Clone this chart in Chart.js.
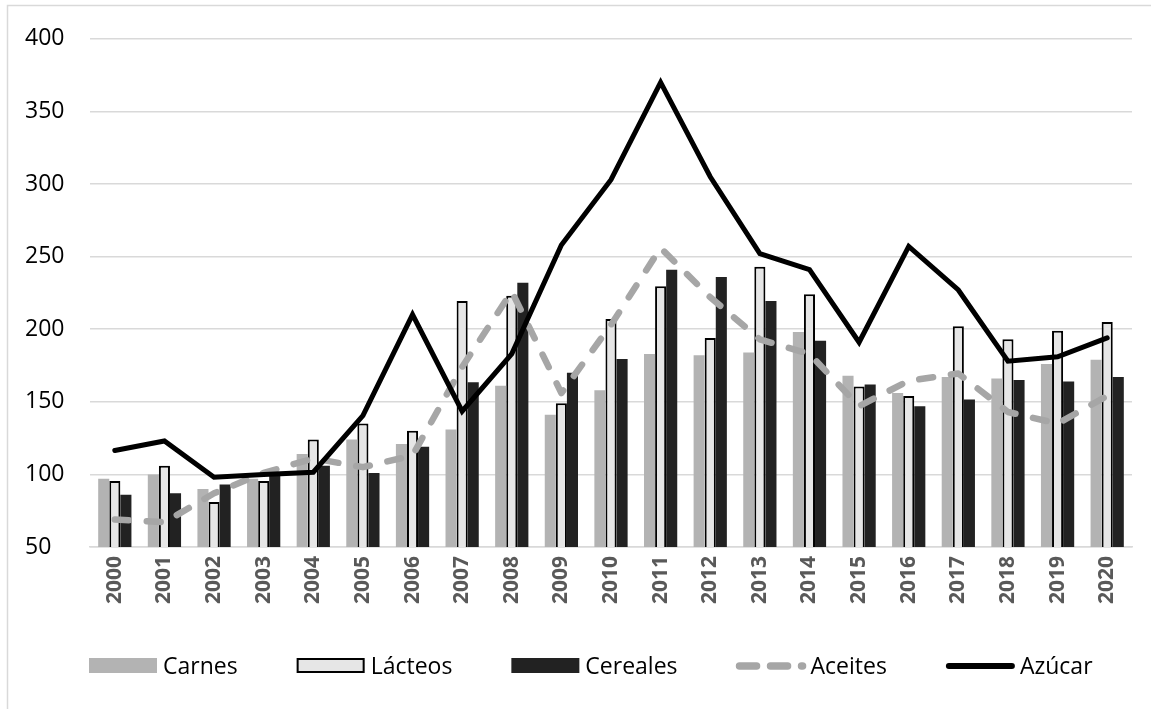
<!DOCTYPE html>
<html lang="es">
<head>
    <meta charset="UTF-8">
    <title>Índices de precios de alimentos 2000-2020</title>
    <script src="https://cdnjs.cloudflare.com/ajax/libs/Chart.js/4.4.1/chart.umd.min.js"></script>
    <style>
        body { margin: 0; background: #fff; }
        canvas { display: block; }
    </style>
</head>
<body>
    <canvas id="chart" width="1151" height="709"></canvas>

    <script>
        const years = ['2000', '2001', '2002', '2003', '2004', '2005', '2006', '2007', '2008', '2009', '2010',
                       '2011', '2012', '2013', '2014', '2015', '2016', '2017', '2018', '2019', '2020'];
        const carnes   = [97, 100, 90, 97, 114, 124, 121, 131, 161, 141, 158, 183, 182, 184, 198, 168, 156, 167, 166, 176, 179];
        const lacteos  = [95.5, 106, 81, 95.5, 124, 135, 130, 219.5, 223, 149, 207, 229.5, 194, 243, 224, 160.5, 154, 202, 193, 199, 205];
        const cereales = [86, 87, 93, 101, 106, 101, 119, 163.5, 232, 170, 179.5, 241, 236, 219.5, 192, 162, 147, 151.5, 165, 164, 167];
        const aceites  = [69, 67, 87, 101, 111, 105, 113, 174, 226, 156, 203, 256, 222, 193, 183, 147, 164.5, 169.5, 143, 135, 154];
        const azucar   = [116.5, 123, 98, 100, 101.5, 140.5, 210, 143.5, 183, 258, 303, 370, 305, 252, 241, 191, 257, 227, 178, 181, 194];
        const yTicks   = { min: 50, max: 400, step: 50 };

        const FONT = "'Open Sans', 'Liberation Sans', sans-serif";

        // thin grey frame round the chart
        const framePlugin = {
            id: 'frame',
            beforeDraw(chart) {
                const ctx = chart.ctx;
                ctx.save();
                ctx.strokeStyle = '#d9d9d9';
                ctx.lineWidth = 1.5;
                ctx.strokeRect(7.5, 5.5, chart.width + 20, chart.height + 20);
                ctx.restore();
            }
        };

        // legend row with the wide keys, drawn by hand
        const keyLegend = {
            id: 'keyLegend',
            afterDraw(chart) {
                const ctx = chart.ctx;
                const y = 666;
                const keyW = 68;
                let x = 89;
                ctx.save();
                ctx.font = '23px ' + FONT;
                ctx.textBaseline = 'middle';
                chart.data.datasets.forEach(ds => {
                    if (ds.type === 'bar') {
                        ctx.fillStyle = ds.backgroundColor;
                        ctx.fillRect(x, y - 8, keyW, 15);
                        if (ds.borderWidth) {
                            ctx.strokeStyle = ds.borderColor;
                            ctx.lineWidth = 2;
                            ctx.strokeRect(x + 1, y - 7, keyW - 2, 13);
                        }
                    } else {
                        ctx.strokeStyle = ds.borderColor;
                        ctx.lineWidth = ds.borderWidth + 1;
                        ctx.lineCap = 'round';
                        ctx.setLineDash(ds.borderDash ? [17, 14] : []);
                        ctx.beginPath();
                        ctx.moveTo(x + 3, y);
                        ctx.lineTo(x + keyW - 2, y);
                        ctx.stroke();
                        ctx.setLineDash([]);
                    }
                    ctx.fillStyle = '#000';
                    ctx.fillText(ds.label, x + keyW + 6, y + 1);
                    x += keyW + 6 + ctx.measureText(ds.label).width + 59;
                });
                ctx.restore();
            }
        };

        const ctx = document.getElementById('chart').getContext('2d');
        new Chart(ctx, {
            data: {
                labels: years,
                datasets: [
                    {
                        type: 'bar',
                        label: 'Carnes',
                        data: carnes,
                        backgroundColor: '#b3b3b3',
                        borderWidth: 0,
                        order: 2
                    },
                    {
                        type: 'bar',
                        label: 'Lácteos',
                        data: lacteos,
                        backgroundColor: '#e6e6e6',
                        borderColor: '#000',
                        borderWidth: 2,
                        borderSkipped: 'bottom',
                        order: 2
                    },
                    {
                        type: 'bar',
                        label: 'Cereales',
                        data: cereales,
                        backgroundColor: '#222222',
                        borderWidth: 0,
                        order: 2
                    },
                    {
                        type: 'line',
                        label: 'Aceites',
                        data: aceites,
                        borderColor: '#a6a6a6',
                        borderWidth: 6.5,
                        borderDash: [14, 18],
                        borderCapStyle: 'round',
                        borderJoinStyle: 'round',
                        pointRadius: 0,
                        tension: 0,
                        order: 1
                    },
                    {
                        type: 'line',
                        label: 'Azúcar',
                        data: azucar,
                        borderColor: '#000',
                        borderWidth: 5,
                        borderCapStyle: 'round',
                        borderJoinStyle: 'miter',
                        pointRadius: 0,
                        tension: 0,
                        order: 0
                    }
                ]
            },
            options: {
                responsive: false,
                animation: false,
                datasets: {
                    bar: { categoryPercentage: 0.67, barPercentage: 1.0 }
                },
                layout: { padding: { left: 25, right: 19, top: 37, bottom: 100 } },
                plugins: {
                    legend: { display: false },
                    tooltip: { enabled: false }
                },
                scales: {
                    x: {
                        grid: { display: false, drawTicks: false },
                        border: { color: '#d9d9d9', width: 1.5 },
                        ticks: {
                            color: '#595959',
                            font: { family: FONT, size: 21, weight: 'bold' },
                            maxRotation: 90,
                            minRotation: 90,
                            padding: 9
                        },
                        afterFit(scale) { scale.height = 62; }
                    },
                    y: {
                        min: yTicks.min,
                        max: yTicks.max,
                        grid: { color: '#d9d9d9', lineWidth: 1.5, drawTicks: false },
                        border: { display: false },
                        ticks: {
                            stepSize: yTicks.step,
                            color: '#000',
                            crossAlign: 'far',
                            font: { family: FONT, size: 23 },
                            padding: 25
                        },
                        afterFit(scale) { scale.width = 65; }
                    }
                }
            },
            plugins: [framePlugin, keyLegend]
        });
    </script>
</body>
</html>
